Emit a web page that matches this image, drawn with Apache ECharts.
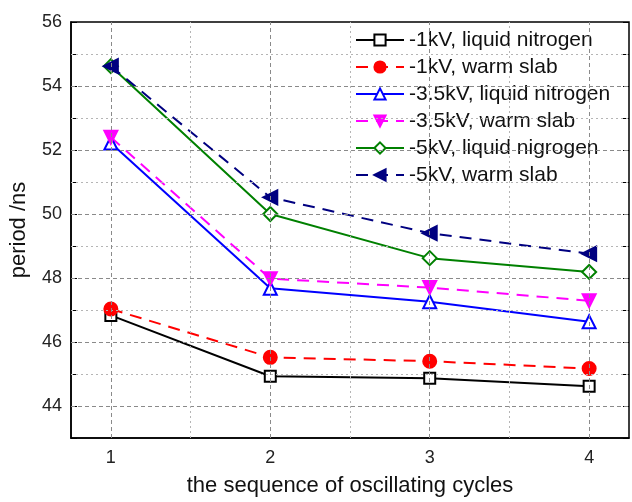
<!DOCTYPE html>
<html>
<head>
<meta charset="utf-8">
<script src="https://cdn.jsdelivr.net/npm/echarts@6/dist/echarts.min.js"></script>
<style>
  html, body { margin: 0; padding: 0; background: #fff; }
  #chart { width: 632px; height: 502px; }
</style>
</head>
<body>
<div id="chart"></div>
<script>
// data
var cycles = [1, 2, 3, 4]
var names = [
  '-1kV, liquid nitrogen',
  '-1kV, warm slab',
  '-3.5kV, liquid nitrogen',
  '-3.5kV, warm slab',
  '-5kV, liquid nigrogen',
  '-5kV, warm slab'
]
var ln1 = [46.83, 44.93, 44.87, 44.62]
var ws1 = [47.03, 45.52, 45.40, 45.17]
var ln35 = [52.22, 47.68, 47.26, 46.63]
var ws35 = [52.40, 47.98, 47.70, 47.29]
var ln5 = [54.62, 50.00, 48.62, 48.19]
var ws5 = [54.62, 50.52, 49.40, 48.76]

var yMajor = [44, 46, 48, 50, 52, 54]
var yMinor = [45, 47, 49, 51, 53, 55]
var xMajor = [1, 2, 3, 4]
var xMinor = [1.5, 2.5, 3.5]

function pts(vals) {
  return cycles.map(function (c, i) { return [c, vals[i]] })
}

var font = '"Liberation Sans", Arial, sans-serif'

function mk(name, vals, color, symbol, size, rot, dashed) {
  return {
    name: name,
    type: 'line',
    data: pts(vals),
    symbol: symbol,
    symbolSize: size,
    symbolRotate: rot,
    z: 3,
    lineStyle: { color: color, width: 2, type: dashed ? [12, 8] : 'solid' },
    itemStyle: { color: color, borderColor: color, borderWidth: 2 }
  }
}

// grid lines: dashed at major ticks, dotted at minor ticks
var gridLines = []
yMajor.forEach(function (v) { gridLines.push({ yAxis: v, lineStyle: { type: [4, 3], color: '#8a8a8a' } }) })
yMinor.forEach(function (v) { gridLines.push({ yAxis: v, lineStyle: { type: [2, 3], color: '#b5b5b5' } }) })
xMajor.forEach(function (v) { gridLines.push({ xAxis: v, lineStyle: { type: [4, 3], color: '#8a8a8a' } }) })
xMinor.forEach(function (v) { gridLines.push({ xAxis: v, lineStyle: { type: [2, 3], color: '#b5b5b5' } }) })

var chart = echarts.init(document.getElementById('chart'))
var option = {
  backgroundColor: '#fff',
  animation: false,
  textStyle: { fontFamily: font },
  grid: { left: 71, width: 564, top: 22, bottom: 62, show: true, borderColor: '#000', borderWidth: 1.5 },
  legend: {
    data: names,
    orient: 'vertical',
    left: 355,
    top: 29,
    itemWidth: 48,
    itemHeight: 14,
    itemGap: 5,
    padding: 0,
    textStyle: { fontSize: 21, lineHeight: 22, color: '#111', fontFamily: font }
  },
  xAxis: {
    type: 'value',
    min: 0.75,
    max: 4.25,
    interval: 0.25,
    name: 'the sequence of oscillating cycles',
    nameLocation: 'middle',
    nameGap: 37,
    nameTextStyle: { fontSize: 22, color: '#111' },
    axisLine: { lineStyle: { color: '#000', width: 1.5 } },
    axisTick: { show: false },
    splitLine: { show: false },
    axisLabel: {
      fontSize: 18, color: '#222', margin: 11,
      formatter: function (v) { return xMajor.indexOf(v) >= 0 ? String(v) : '' }
    }
  },
  yAxis: [{
    type: 'value',
    min: 43,
    max: 56,
    interval: 1,
    name: 'period /ns',
    nameLocation: 'middle',
    nameGap: 41,
    nameTextStyle: { fontSize: 22, color: '#111' },
    axisLine: { lineStyle: { color: '#000', width: 1.5 } },
    axisTick: { inside: true, length: 6, lineStyle: { color: '#000' } },
    splitLine: { show: false },
    axisLabel: {
      fontSize: 18, color: '#222', margin: 9,
      formatter: function (v) { return yMajor.indexOf(v) >= 0 || v === 56 ? String(v) : '' }
    }
  }, {
    type: 'value',
    position: 'right',
    min: 43,
    max: 56,
    interval: 1,
    axisLine: { show: false },
    axisTick: { inside: true, length: 6, lineStyle: { color: '#000' } },
    axisLabel: { show: false },
    splitLine: { show: false }
  }],
  series: [
    {
      name: 'grid',
      type: 'line',
      data: [],
      z: 1,
      silent: true,
      markLine: { silent: true, symbol: 'none', label: { show: false }, lineStyle: { width: 1 }, data: gridLines }
    },
    mk(names[0], ln1, '#000000', 'emptyRect', 11, 0, false),
    mk(names[1], ws1, '#ff0000', 'circle', 13, 0, true),
    mk(names[2], ln35, '#0000ff', 'emptyTriangle', 13, 0, false),
    mk(names[3], ws35, '#ff00ff', 'triangle', 13, 180, true),
    mk(names[4], ln5, '#008000', 'emptyDiamond', 14, 0, false),
    mk(names[5], ws5, '#000080', 'triangle', 14, 90, true)
  ]
}
chart.setOption(option)
</script>
</body>
</html>
